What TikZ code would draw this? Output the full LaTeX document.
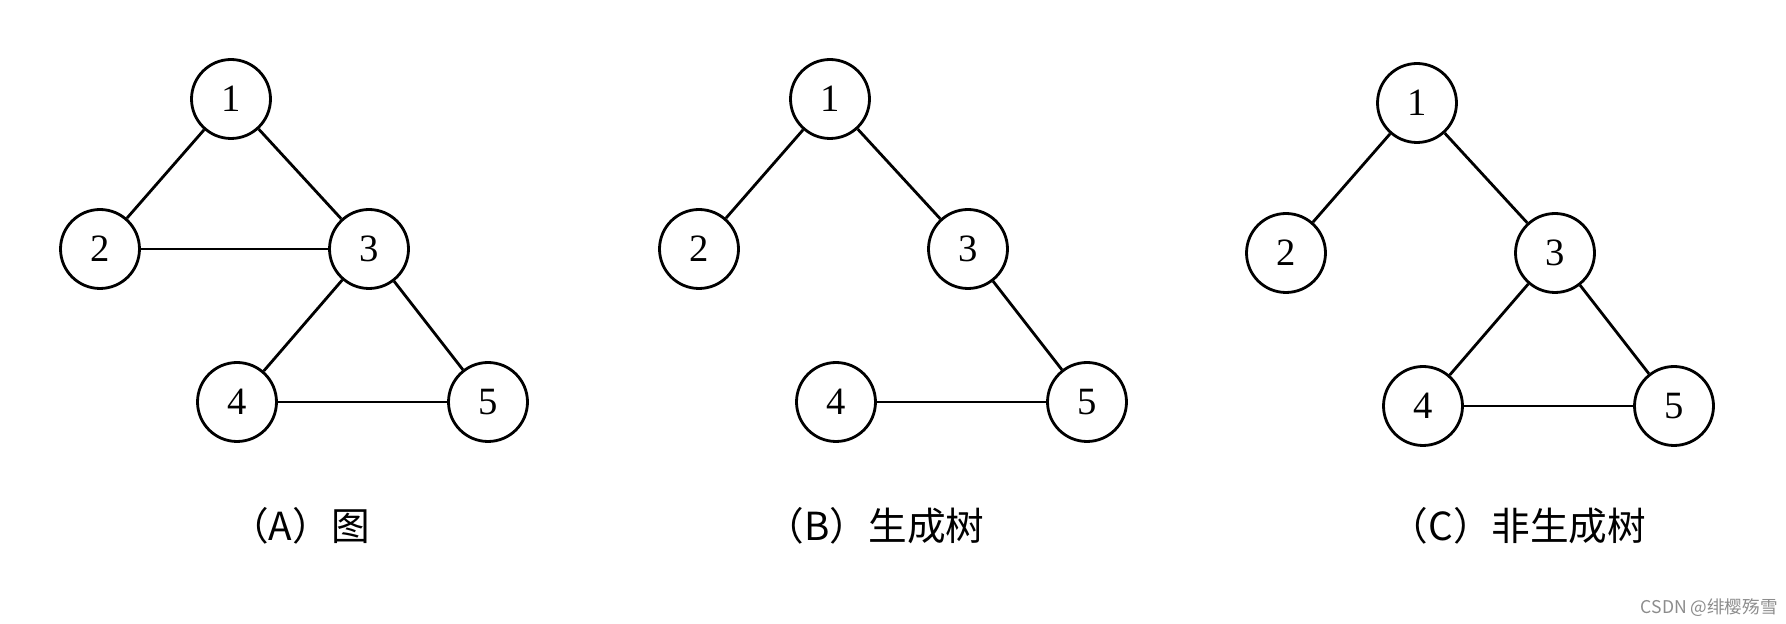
\documentclass[tikz,border=0pt]{standalone}
\usepackage{fontspec}
\setmainfont{Liberation Serif}
\newfontfamily\cjk{Noto Sans CJK SC}
\usetikzlibrary{positioning}

\tikzset{
  vertex/.style={draw=black, circle, line width=1.6pt, minimum size=1.58cm,
    inner sep=0pt, font=\fontsize{22}{22}\selectfont},
  link/.style={line width=1.6pt},
  caption/.style={font=\cjk\fontsize{22}{22}\selectfont, inner sep=0pt},
  mark label/.style={font=\cjk\fontsize{10}{10}\selectfont, text=black!45, inner sep=0pt}
}

\begin{document}
\begin{tikzpicture}[x=0.02cm, y=-0.02cm]
\useasboundingbox (0,0) rectangle (1786,624);

% three copies of the same five vertices
\foreach \p/\ox/\oy in {a/231/99, b/830/99, c/1417/103} {
  \begin{scope}[shift={(\ox,\oy)}]
    \node[vertex] (\p1) at (0,0) {1};
    \node[vertex] (\p2) at (-131,150) {2};
    \node[vertex] (\p3) at (138,150) {3};
    \node[vertex] (\p4) at (6,303) {4};
    \node[vertex] (\p5) at (257,303) {5};
  \end{scope}
}

% (A) graph
\draw[link] (a1) -- (a2);
\draw[link] (a1) -- (a3);
\draw[link] (a2) -- (a3);
\draw[link] (a3) -- (a4);
\draw[link] (a3) -- (a5);
\draw[link] (a4) -- (a5);

% (B) spanning tree
\draw[link] (b1) -- (b2);
\draw[link] (b1) -- (b3);
\draw[link] (b3) -- (b5);
\draw[link] (b4) -- (b5);

% (C) not a spanning tree
\draw[link] (c1) -- (c2);
\draw[link] (c1) -- (c3);
\draw[link] (c3) -- (c4);
\draw[link] (c3) -- (c5);
\draw[link] (c4) -- (c5);

\node[caption] (capa) at (300,526) {（A）图};
\node[caption] (capb) at (875,526) {（B）生成树};
\node[caption] (capc) at (1518,526) {（C）非生成树};

\node[mark label, anchor=east] (wm) at (1778,608) {CSDN @绯樱殇雪};
\end{tikzpicture}
\end{document}
